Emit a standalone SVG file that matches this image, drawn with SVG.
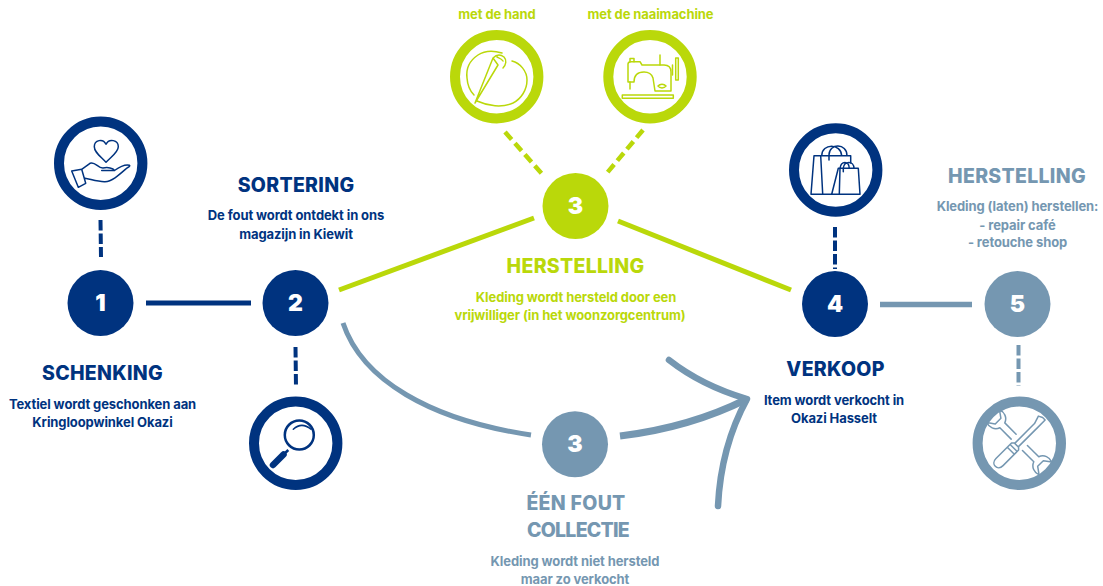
<svg xmlns="http://www.w3.org/2000/svg" width="1103" height="586" viewBox="0 0 1103 586">
<style>
text{font-family:"Inter","Liberation Sans",sans-serif;font-weight:700;text-anchor:middle}
.b{font-size:13px;letter-spacing:-.1px}
.t{font-size:19.500px;font-weight:800;letter-spacing:.3px}
.n{font-size:23px;font-weight:900;fill:#fff}
.navy{fill:#00337f}.lime{fill:#bad80a}.grey{fill:#7597b1}
.rn{fill:none;stroke:#00337f;stroke-width:10}.rl{fill:none;stroke:#bad80a;stroke-width:10}.rg{fill:none;stroke:#7597b1;stroke-width:10}
.in{fill:none;stroke:#00337f;stroke-width:1.500;stroke-linejoin:round;stroke-linecap:round}
.il{fill:none;stroke:#bad80a;stroke-width:1.500;stroke-linejoin:round;stroke-linecap:round}
.ig{fill:none;stroke:#7597b1;stroke-width:1.500;stroke-linejoin:round;stroke-linecap:round}
.cn{fill:none;stroke:#00337f;stroke-width:5}.cl{fill:none;stroke:#bad80a;stroke-width:5}.cg{fill:none;stroke:#7597b1;stroke-width:5.500}
.d{stroke-width:4;stroke-dasharray:10.500 3}
.dl{stroke-width:4.500;stroke-dasharray:10 5}
</style>
<rect width="1103" height="586" fill="#fff"/>
<g id="connectors">
<path class="cn d" d="M100.500 220L101 257"/>
<path class="cn" d="M146 303H251"/>
<path class="cn d" d="M295.500 347L296 387"/>
<path class="cn d" d="M835 227V269"/>
<path class="cl" d="M339 290L534 218"/>
<path class="cl" d="M618 221L791 290"/>
<path class="cl dl" d="M505 132L543 175"/>
<path class="cl dl" d="M643 130L607 173"/>
<path class="cg" d="M880 304.500H972"/>
<path class="cg d" d="M1018.500 345V386"/>
<path d="M343 323C362 380 430 420 531 435" fill="none" stroke="#7597b1" stroke-width="5"/>
<path d="M620 436C670 430 715 415 747 399" fill="none" stroke="#7597b1" stroke-width="7"/>
<path d="M669 360C692 378 720 391 747 399C730 430 720 465 718 506" fill="none" stroke="#7597b1" stroke-width="6.500" stroke-linecap="round" stroke-linejoin="round"/>
</g>
<g id="icon-schenking">
<circle class="rn" cx="100.700" cy="163.300" r="41.700"/>
<path class="in" d="M106 162.300C100 156 94.300 152 94.300 146.700C94.300 140 103 138 106 144.300C109 138 118.300 140 118.300 146.700C118.300 152 112 156 106 162.300Z"/>
<path class="in" d="M81.700 169.300L90 163.300C95 161 98 168.300 103 168C108 167 113 168 114.500 170.500H101.700M114.500 170.500C118 168 124 164 129.300 165.200C130.500 166 129 167 127 168C119 175 112 181.500 105 181.700C98 182 90 179 85 178.300M71.700 171L81.700 169.300L85.700 183.300L78.300 187.300Z"/>
</g>
<g id="icon-sortering">
<circle class="rn" cx="295.700" cy="443.300" r="41.700"/>
<circle cx="299.300" cy="435" r="14.500" fill="none" stroke="#00337f" stroke-width="2.500"/>
<path class="in" d="M293.300 429.300Q301.700 421.500 311 429.300"/>
<path d="M288.300 450L283 455" stroke="#00337f" stroke-width="2.500" fill="none"/>
<path d="M283.500 454.500L273 465" stroke="#00337f" stroke-width="6.500" stroke-linecap="round" fill="none"/>
</g>
<g id="icon-hand">
<circle class="rl" cx="496.700" cy="76.700" r="41.700"/>
<path class="il" d="M502 53C492 50 484 51 478 55C469 61 466 70 467 78C467.500 85 470 91 474 95"/>
<path class="il" d="M512 61C520 63 527 71 527 80C527 90 521 99 513 103C502 108 488 106 477 101"/>
<path class="il" d="M475 103L493 58L498 65ZM493 58C496 55 500 54 504 57C507 60 506 65 503 68M497 57C499 58 502 59 503 61"/>
</g>
<g id="icon-naaimachine">
<circle class="rl" cx="650" cy="76.700" r="41.700"/>
<path class="il" d="M622.300 95H673.300V98.300H622.300Z"/>
<path class="il" d="M630 82H628V64Q628 61.700 631 61.700H640L642 65H664Q671 65 671 72V91H655L653 78Q651 72 644 72Q634 72 634 82Z"/>
<path class="il" d="M630 82V89M630 61.700V58.500H634V61.700M660 65V55M675.700 58H678.300V80H675.700ZM672.500 65V75M658 86C660 83.500 664 83.500 666 86C664 88.500 660 88.500 658 86Z"/>
</g>
<g id="icon-verkoop">
<circle class="rn" cx="835.700" cy="170" r="41.700"/>
<path class="in" d="M831.700 194.300H811L814 155.700H850.700V163M820.700 155.700L822.700 194.300M821.700 155.700C822 143 841 143 841.700 155.700M829 160V155C829 143 847 143 847 155.700"/>
<path class="in" d="M838.300 168.300H858.300L860 194.300H831.700ZM840 168.300L839.300 194.300M840 168.300C841 160.500 849 160.500 849.300 168.300M843.300 171.700V168C844 160.500 854 160.500 854 168.300"/>
</g>
<g id="icon-herstelling">
<circle class="rg" cx="1019.300" cy="443.300" r="41.700"/>
<g transform="translate(1019.300 442.300) rotate(45)">
<path class="ig" d="M-8 -3.500H-24C-26 -9 -32 -11 -37 -9L-30 -4V4L-37 9C-32 11 -26 9 -24 3.500H-8M8 -3.500H24C26 -9 32 -11 37 -9L30 -4V4L37 9C32 11 26 9 24 3.500H8"/>
</g>
<g transform="translate(1019.300 442.300) rotate(-45)">
<path class="ig" d="M-6 -5H-28C-36 -5 -36 5 -28 5H-6L-4 3V-3ZM-12 -5V5M-8 -5V5M-4 -2.500H24L32 -5L34 -1V2.500H24L-4 2.500"/>
</g>
</g>
<g id="node-1"><circle class="navy" cx="100.500" cy="303" r="33"/><text class="n" x="100.500" y="311">1</text></g>
<g id="node-2"><circle class="navy" cx="295.500" cy="303" r="33"/><text class="n" x="295.500" y="311">2</text></g>
<g id="node-3-herstelling"><circle class="lime" cx="575.500" cy="206" r="33"/><text class="n" x="575.500" y="214">3</text></g>
<g id="node-3-fout"><circle class="grey" cx="575" cy="444.300" r="33"/><text class="n" x="575" y="452">3</text></g>
<g id="node-4"><circle class="navy" cx="835" cy="304" r="33"/><text class="n" x="835" y="312">4</text></g>
<g id="node-5"><circle class="grey" cx="1017.500" cy="304" r="33"/><text class="n" x="1017.500" y="312">5</text></g>
<g id="labels">
<text class="b lime" x="497" y="19">met de hand</text>
<text class="b lime" x="650.500" y="19">met de naaimachine</text>
<text class="t navy" x="296" y="192">SORTERING</text>
<text class="b navy" x="296" y="220">De fout wordt ontdekt in ons</text>
<text class="b navy" x="296" y="239">magazijn in Kiewit</text>
<text class="t navy" x="102.500" y="380">SCHENKING</text>
<text class="b navy" x="102.500" y="409">Textiel wordt geschonken aan</text>
<text class="b navy" x="102.500" y="427">Kringloopwinkel Okazi</text>
<text class="t lime" x="575.500" y="273">HERSTELLING</text>
<text class="b lime" x="576" y="302">Kleding wordt hersteld door een</text>
<text class="b lime" x="570" y="320">vrijwilliger (in het woonzorgcentrum)</text>
<text class="t navy" x="835.500" y="376">VERKOOP</text>
<text class="b navy" x="834" y="405">Item wordt verkocht in</text>
<text class="b navy" x="834" y="423">Okazi Hasselt</text>
<text class="t grey" x="1017" y="183">HERSTELLING</text>
<text class="b grey" x="1017.500" y="211">Kleding (laten) herstellen:</text>
<text class="b grey" x="1017.500" y="230">- repair café</text>
<text class="b grey" x="1017.500" y="247">- retouche shop</text>
<text class="t grey" x="576" y="510">ÉÉN FOUT</text>
<text class="t grey" x="578.500" y="537" textLength="103">COLLECTIE</text>
<text class="b grey" x="575" y="566">Kleding wordt niet hersteld</text>
<text class="b grey" x="575" y="584">maar zo verkocht</text>
</g>
</svg>
